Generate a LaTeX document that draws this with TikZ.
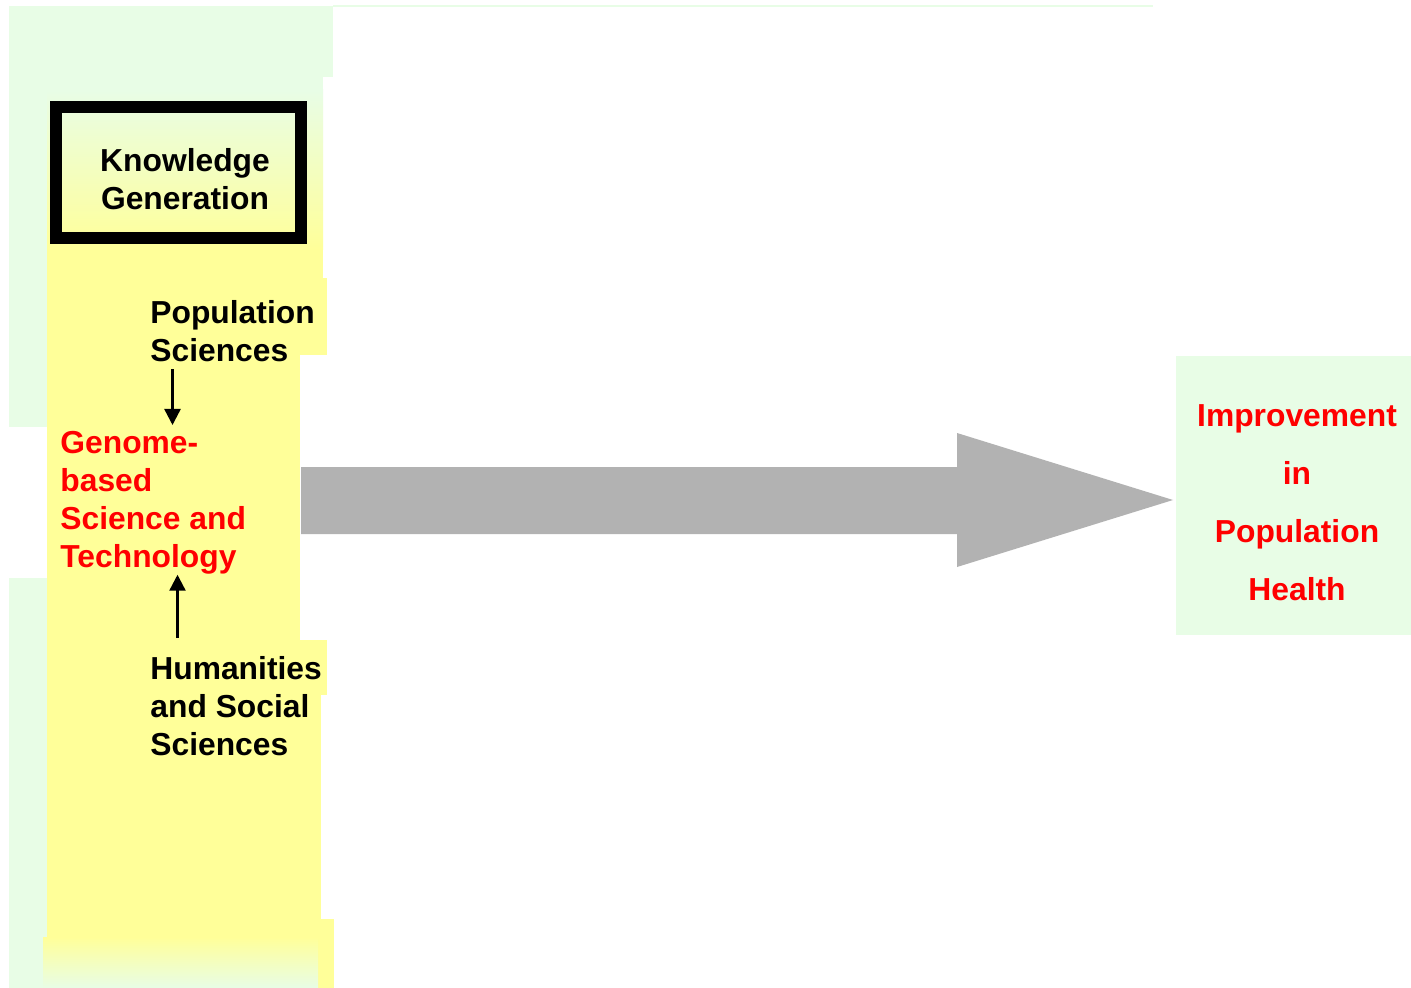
\documentclass[tikz,border=0pt]{standalone}
\usepackage{fontspec}
\setmainfont{Liberation Sans}
\usepackage{tikz}
\usetikzlibrary{arrows.meta}
\definecolor{palegreen}{RGB}{232,253,230}
\definecolor{paleyellow}{RGB}{255,255,153}
\definecolor{arrowgray}{RGB}{178,178,178}
\definecolor{textred}{RGB}{255,0,0}

\begin{document}
\begin{tikzpicture}[x=0.5pt,y=-0.5pt,
  lbl/.style={font=\bfseries\fontsize{15.9}{19}\selectfont, align=left, inner sep=0pt, anchor=north west},
  redlbl/.style={lbl, text=textred},
  kbox/.style={draw=black, line width=6pt, align=center, inner sep=0pt,
    minimum width=122.5pt, minimum height=65.5pt, font=\bfseries\fontsize{15.9}{19}\selectfont},
  impbox/.style={fill=palegreen, align=center, inner sep=0pt, text=textred,
    minimum width=117.5pt, minimum height=139.5pt, font=\bfseries\fontsize{15.9}{29}\selectfont},
  arr/.style={-{Triangle[length=8pt,width=8pt]}, line width=1.2pt},
  bigarrow/.style={fill=arrowgray}
]
 \useasboundingbox[fill=white] (0,0) rectangle (1411,988);

 % column behind the labels
 \fill[palegreen] (9,6) rectangle (333,77);
 \fill[palegreen] (9,77) rectangle (323,278);
 \fill[palegreen] (9,278) rectangle (47,427);
 \fill[palegreen] (9,578) rectangle (47,988);
 \fill[palegreen] (333,5) rectangle (1153,7);
 \shade[top color=palegreen, bottom color=paleyellow] (47,90) rectangle (323,250);
 \fill[paleyellow] (47,250) rectangle (323,278);
 \fill[paleyellow] (47,278) rectangle (327,355);
 \fill[paleyellow] (47,355) rectangle (300,640);
 \fill[paleyellow] (47,640) rectangle (327,695);
 \fill[paleyellow] (47,695) rectangle (321,919);
 \fill[paleyellow] (47,919) rectangle (334,937);
 \fill[paleyellow] (318,937) rectangle (334,988);
 \shade[top color=paleyellow, bottom color=palegreen] (43,937) rectangle (318,988);

 \node[kbox] (know) at (178.5,172.5) {\rule{0pt}{18.5pt}\hspace*{6.5pt}Knowledge\\\hspace*{6.5pt}Generation};

 \node[lbl] (pop) at (150,300) {Population\\Sciences};
 \node[redlbl] (genome) at (60,431) {Genome-\\based\\Science and\\Technology};
 \node[lbl] (hum) at (150,656) {Humanities\\and Social\\Sciences};

 \draw[arr] ([xshift=11.25pt,yshift=-3.5pt]pop.south west) -- ([xshift=11.25pt,yshift=3pt]pop.south west |- genome.north);
 \draw[arr] ([xshift=13.75pt,yshift=9pt]hum.north west) -- ([xshift=13.75pt]hum.north west |- genome.south);

 % wide arrow
 \fill[bigarrow] (301,467) -- (957,467) -- (957,433) -- (1173,500) -- (957,567) -- (957,534) -- (301,534) -- cycle;

 \node[impbox] (improve) at (1293.5,495.5) {\rule{0pt}{18.5pt}\hspace*{3.5pt}Improvement\\\hspace*{3.5pt}in\\\hspace*{3.5pt}Population\\\hspace*{3.5pt}Health};

\end{tikzpicture}
\end{document}
